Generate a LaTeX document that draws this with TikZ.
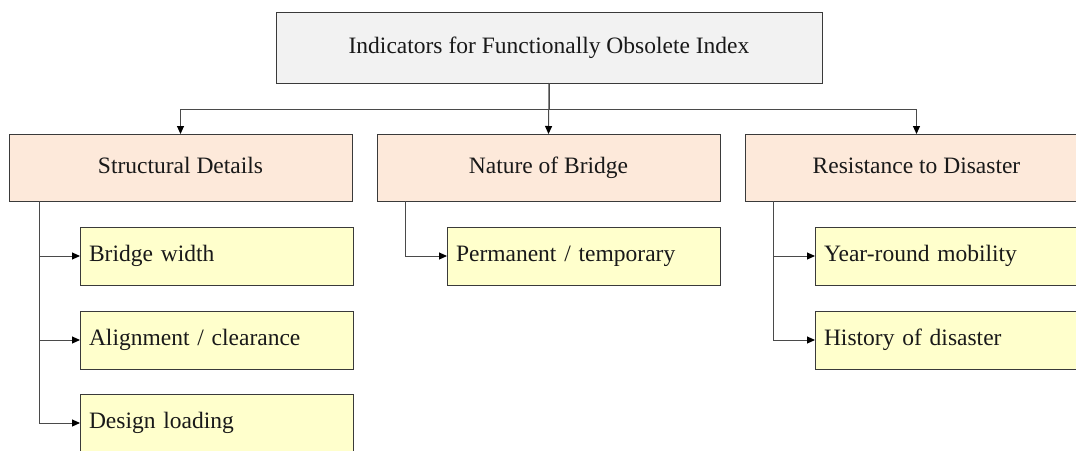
\documentclass[tikz,border=0pt]{standalone}
\usepackage{fontspec}
\setmainfont{Liberation Serif}
\usetikzlibrary{arrows.meta}
\definecolor{topfill}{HTML}{F2F2F2}
\definecolor{catfill}{HTML}{FDE9DA}
\definecolor{itemfill}{HTML}{FFFFCC}
\definecolor{edge}{HTML}{3A3A3A}
\definecolor{wire}{HTML}{4A4A4A}
\begin{document}
\begin{tikzpicture}[x=1pt,y=-1pt,
  every node/.style={font=\fontsize{23.5}{28}\selectfont, text=black!90},
  basebox/.style={draw=edge, line width=1pt, inner sep=0pt, outer sep=0pt, anchor=north west,
                  text height=16pt, text depth=5pt},
  topbox/.style={basebox, fill=topfill, minimum width=546pt, minimum height=71pt},
  catbox/.style={basebox, fill=catfill, minimum width=343pt, minimum height=67pt},
  itembox/.style={basebox, fill=itemfill, minimum height=58pt, inner xsep=9pt,
                  text width=255pt, align=left},
  wireline/.style={draw=wire, line width=1pt},
  arrowline/.style={wireline, -{Triangle[length=8pt,width=7pt,color=black]}},
]
\useasboundingbox (0,0) rectangle (1076,450);
\clip (0,0) rectangle (1076,450);

% root
\node[topbox] (root) at (276,12) {Indicators for Functionally Obsolete Index};

% categories
\node[catbox] (sd) at (9,134)   {Structural Details};
\node[catbox] (nb) at (377,134) {Nature of Bridge};
\node[catbox] (rd) at (745,134) {Resistance to Disaster};

% indicators
\node[itembox] (bw) at (80,227)  {Bridge width};
\node[itembox] (ac) at (80,311)  {Alignment / clearance};
\node[itembox] (dl) at (80,394)  {Design loading};
\node[itembox] (pt) at (447,227) {Permanent / temporary};
\node[itembox] (ym) at (815,227) {Year-round mobility};
\node[itembox] (hd) at (815,311) {History of disaster};

% root to categories
\draw[wireline] (root.south) -- ++(0,26) coordinate (hub);
\draw[arrowline] (hub) -| (sd.north);
\draw[arrowline] (hub) -| (rd.north);
\draw[arrowline] (root.south) -- (nb.north);

% categories to indicators
\draw[arrowline] ([xshift=30pt]sd.south west) |- (bw.west);
\draw[arrowline] ([xshift=30pt]sd.south west) |- (ac.west);
\draw[arrowline] ([xshift=30pt]sd.south west) |- (dl.west);
\draw[arrowline] ([xshift=28pt]nb.south west) |- (pt.west);
\draw[arrowline] ([xshift=28pt]rd.south west) |- (ym.west);
\draw[arrowline] ([xshift=28pt]rd.south west) |- (hd.west);
\end{tikzpicture}
\end{document}
